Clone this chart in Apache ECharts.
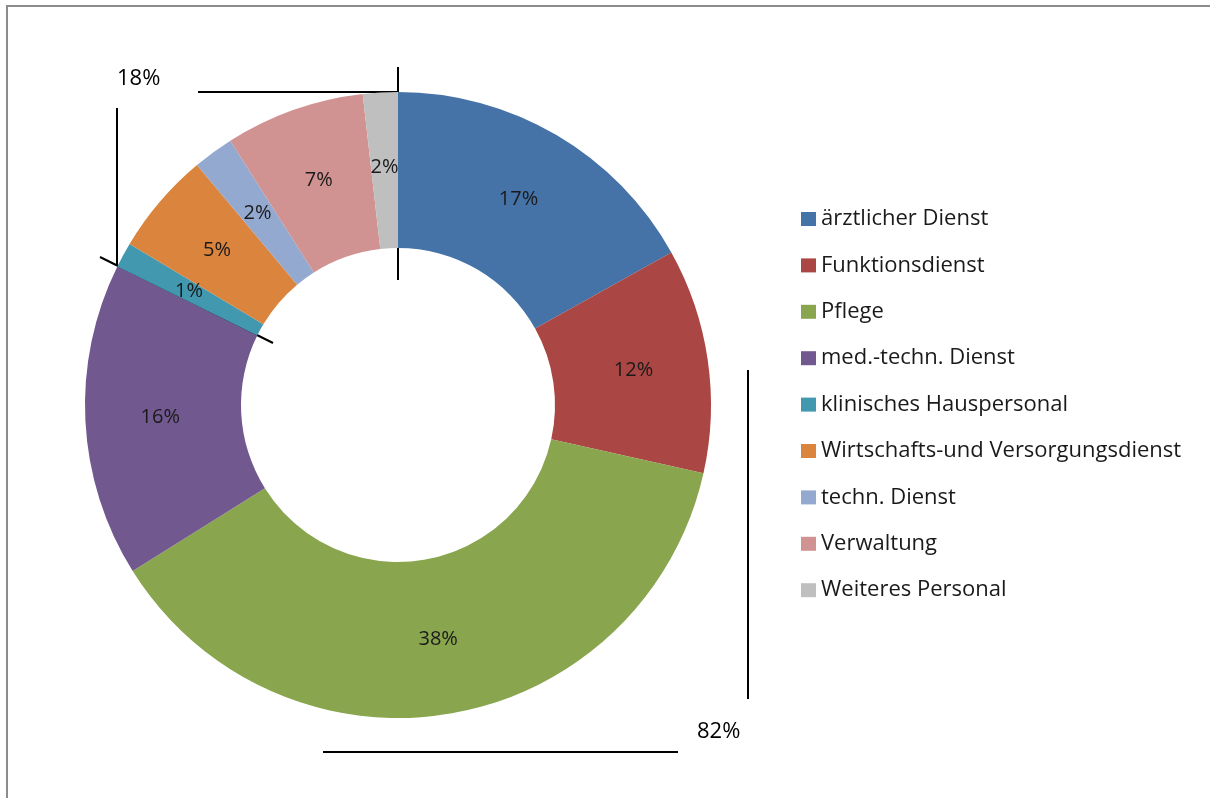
<!DOCTYPE html>
<html>
<head>
<meta charset="utf-8">
<script src="https://cdn.jsdelivr.net/npm/echarts@6/dist/echarts.min.js"></script>
<style>
html, body { margin: 0; padding: 0; background: #fff; }
#main { width: 1210px; height: 798px; }
</style>
</head>
<body>
<div id="main"></div>
<script>
var categories = ['ärztlicher Dienst', 'Funktionsdienst', 'Pflege', 'med.-techn. Dienst',
    'klinisches Hauspersonal', 'Wirtschafts-und Versorgungsdienst', 'techn. Dienst',
    'Verwaltung', 'Weiteres Personal'];
var shares = [16.9, 11.6, 37.6, 16.2, 1.3, 5.3, 2.1, 7.2, 1.8];
var colors = ['#4572A7', '#AA4643', '#89A54E', '#71588F', '#4198AF',
    '#DB843D', '#93A9CF', '#D19392', '#BFBFBF'];
var groupLabels = ['18%', '82%'];

var myChart = echarts.init(document.getElementById('main'));

var data = categories.map(function (name, i) {
    return { name: name, value: shares[i], itemStyle: { color: colors[i] } };
});

// Klammerlinien der Gruppen
var lineStyle = { stroke: '#000', lineWidth: 2 };
function line(x1, y1, x2, y2) {
    return { type: 'line', shape: { x1: x1, y1: y1, x2: x2, y2: y2 }, style: lineStyle, silent: true };
}

option = {
    animation: false,
    textStyle: { fontFamily: 'Open Sans' },
    legend: {
        orient: 'vertical',
        left: 801,
        top: 207,
        padding: 0,
        itemWidth: 15,
        itemHeight: 14,
        itemGap: 22.4,
        icon: 'rect',
        textStyle: { fontSize: 22, color: '#1a1a1a', lineHeight: 24, fontFamily: 'Open Sans' },
        data: categories
    },
    series: [
        {
            name: 'Personal',
            type: 'pie',
            center: [398, 405],
            radius: [157, 313],
            startAngle: 90,
            clockwise: true,
            avoidLabelOverlap: false,
            emphasis: { disabled: true },
            label: {
                show: true,
                position: 'inside',
                fontSize: 20,
                color: '#1a1a1a',
                fontFamily: 'Open Sans',
                formatter: function (p) { return Math.round(p.value) + '%'; }
            },
            labelLine: { show: false },
            data: data
        }
    ],
    graphic: [
        { type: 'rect', shape: { x: 7, y: 6, width: 1210, height: 800 },
          style: { fill: 'none', stroke: '#8c8c8c', lineWidth: 2 }, silent: true },
        line(198, 92, 397, 92),
        line(398, 67, 398, 280),
        line(117, 108, 117, 265),
        line(100, 257, 273, 343),
        line(748, 370, 748, 699),
        line(323, 752, 678, 752),
        { type: 'text', left: 117, top: 68,
          style: { text: groupLabels[0], fontSize: 22, fill: '#000', fontFamily: 'Open Sans' } },
        { type: 'text', left: 697, top: 721,
          style: { text: groupLabels[1], fontSize: 22, fill: '#000', fontFamily: 'Open Sans' } }
    ]
};
myChart.setOption(option);
</script>
</body>
</html>
